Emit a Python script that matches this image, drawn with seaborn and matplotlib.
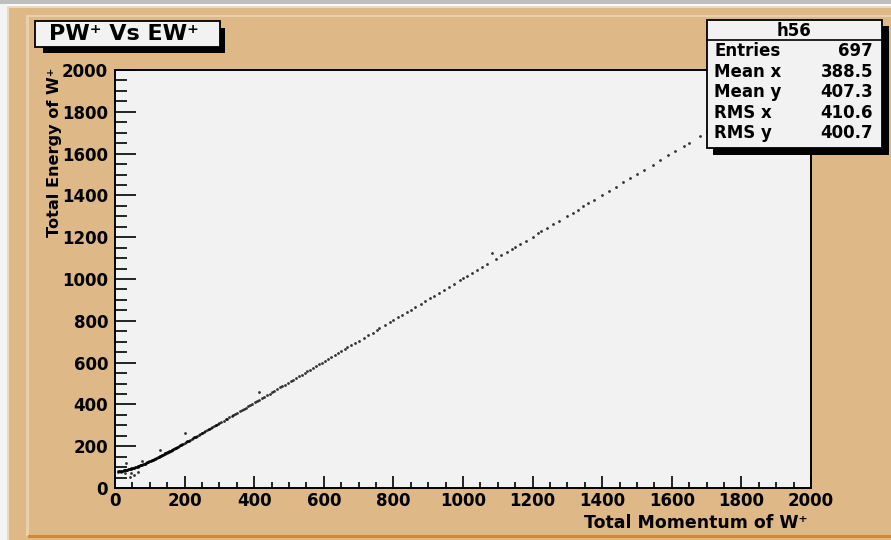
import matplotlib
matplotlib.use("Agg")
import matplotlib.pyplot as plt
from matplotlib.patches import Rectangle
from matplotlib.ticker import MultipleLocator
import pandas as pd
import seaborn as sns

# ---- data: W+ total momentum vs total energy (GeV) ----
momentum_low = [8, 12, 15, 18, 22, 25, 28, 30, 33, 35, 38, 40, 42, 45, 47, 50, 52, 55, 57, 60,
                62, 65, 67, 70, 72, 75, 77, 80, 82, 85, 88, 90, 93, 95, 98, 100, 103, 105, 108, 110,
                113, 115, 118, 120, 123, 125, 128, 130, 133, 135, 138, 140, 143, 145, 148, 150, 153,
                155, 158, 160, 163, 165, 168, 170, 173, 175, 178, 180, 184, 187, 190, 193, 196, 200,
                204, 208, 212, 216, 220, 224, 228, 232, 236, 240, 245, 250, 255, 260, 265, 270, 275,
                280, 285, 290, 295, 300,
                10, 20, 25, 35, 45, 55, 65, 75, 85, 95, 105, 115, 125, 135, 145, 155, 165, 175, 190,
                210, 230, 250, 270, 290]
energy_low = [79, 80, 81, 82, 83, 84, 84, 86, 87, 88, 89, 90, 91, 92, 93, 95, 96, 97, 99, 100,
              101, 103, 105, 107, 108, 110, 112, 113, 115, 117, 119, 121, 123, 125, 127, 128, 131, 132, 135, 136,
              138, 140, 143, 145, 147, 150, 151, 153, 155, 157, 160, 161, 164, 166, 168, 170, 173,
              175, 177, 179, 182, 184, 187, 188, 191, 193, 195, 197, 201, 204, 206, 209, 212, 215,
              219, 223, 227, 230, 234, 238, 242, 245, 249, 253, 258, 263, 268, 272, 277, 282, 286,
              291, 296, 301, 305, 310,
              78, 80, 86, 86, 94, 95, 101, 112, 116, 124, 133, 139, 149, 158, 167, 174, 183, 192, 207,
              225, 243, 262, 283, 300]

momentum_mid = [306, 312, 318, 322, 328, 335, 340, 346, 352, 358, 364, 370, 376, 382, 388, 395,
                402, 408, 415, 422, 428, 436, 444, 450, 458, 466, 474, 480, 488, 496, 505, 512,
                520, 528, 536, 545, 552, 560, 570, 578, 586, 595, 604, 612, 622, 632, 640, 650,
                660, 668, 678, 690, 700]
energy_mid = [316, 322, 328, 332, 338, 344, 349, 355, 361, 367, 373, 379, 384, 390, 396, 403,
              410, 416, 423, 430, 435, 443, 451, 457, 465, 473, 481, 487, 495, 502, 511, 518,
              526, 534, 542, 551, 558, 566, 576, 584, 591, 600, 609, 617, 627, 637, 645, 655,
              665, 673, 683, 695, 705]

momentum_high = [715, 728, 740, 752, 760, 775, 790, 800, 812, 825, 838, 850, 862, 878, 890, 905,
                 918, 930, 945, 960, 975, 990, 1000, 1012, 1025, 1040, 1055, 1070, 1095, 1110,
                 1125, 1140, 1150, 1165, 1180, 1200, 1215, 1225, 1240, 1260, 1275, 1300, 1315,
                 1330, 1345, 1360, 1375, 1400, 1420, 1440, 1460, 1480, 1500, 1520, 1545, 1565,
                 1590, 1610, 1635, 1650, 1680, 1700, 1715]
energy_high = [719, 732, 744, 756, 764, 779, 794, 804, 816, 829, 842, 854, 866, 882, 894, 909,
               921, 933, 948, 963, 978, 993, 1003, 1015, 1028, 1043, 1058, 1073, 1098, 1113,
               1128, 1143, 1153, 1168, 1183, 1203, 1218, 1228, 1243, 1263, 1278, 1302, 1317,
               1332, 1347, 1362, 1377, 1402, 1422, 1442, 1462, 1482, 1502, 1522, 1547, 1567,
               1592, 1612, 1637, 1652, 1682, 1702, 1717]

# off-curve entries
momentum_stray = [17, 43, 45, 66, 33, 77, 129, 201, 414, 1083, 30, 55]
energy_stray = [78, 53, 72, 77, 122, 131, 184, 263, 459, 1124, 70, 60]

stat_labels = ["Entries", "Mean x", "Mean y", "RMS x", "RMS y"]
stat_values = ["697", "388.5", "407.3", "410.6", "400.7"]
hist_name = "h56"
title = "PW\u207a Vs EW\u207a"
x_title = "Total Momentum of W\u207a"
y_title = "Total Energy of W\u207a"

df = pd.DataFrame({
    "p": momentum_low + momentum_mid + momentum_high + momentum_stray,
    "E": energy_low + energy_mid + energy_high + energy_stray,
})

# ---- style ----
sns.set_theme(style="ticks")
plt.rcParams["font.family"] = ["DejaVu Sans"]
plt.rcParams["font.weight"] = "bold"
plt.rcParams["text.color"] = "black"

TAN = "#DEB887"
PANEL = "#F2F2F2"
W, H = 891, 540

fig = plt.figure(figsize=(W / 100, H / 100), dpi=100)
fig.patch.set_facecolor(TAN)


def rect(x0, y0, x1, y1, color, z=-5, edge="none", lw=0):
    fig.add_artist(Rectangle((x0 / W, 1 - y1 / H), (x1 - x0) / W, (y1 - y0) / H,
                             transform=fig.transFigure, facecolor=color,
                             edgecolor=edge, linewidth=lw, zorder=z))


# canvas frame with bevels
rect(0, 0, W, 4, "#BEBEBE")
rect(0, 4, W, 6, "#FAFAFA")
rect(0, 4, 7, H, "#F3F3F3")
rect(7, 6, W, 8, "#EFD9B9")
rect(7, 6, 9, H, "#EFD9B9")
rect(26, 15, W, 17, "#EBD1AB")
rect(26, 15, 29, 536, "#EBD1AB")
rect(28, 535, W, 538, "#C98A3A")

# ---- scatter ----
L, R, T, B = 115, 811, 70, 488
ax = fig.add_axes([L / W, 1 - B / H, (R - L) / W, (B - T) / H])
ax.set_facecolor(PANEL)
sns.scatterplot(data=df, x="p", y="E", ax=ax, s=4, color="black",
                linewidth=0, alpha=0.8, legend=False)
ax.set_xlim(0, 2000)
ax.set_ylim(0, 2000)
ax.set_xlabel("")
ax.set_ylabel("")
for sp in ax.spines.values():
    sp.set_linewidth(1.4)
    sp.set_color("black")

ax.xaxis.set_major_locator(MultipleLocator(200))
ax.xaxis.set_minor_locator(MultipleLocator(50))
ax.yaxis.set_major_locator(MultipleLocator(200))
ax.yaxis.set_minor_locator(MultipleLocator(50))
ax.tick_params(axis="both", which="both", direction="in", width=1.2, color="black",
               labelsize=12, labelcolor="black")
ax.tick_params(axis="y", which="major", length=15, pad=5)
ax.tick_params(axis="y", which="minor", length=8.5)
ax.tick_params(axis="x", which="major", length=8.6, pad=3)
ax.tick_params(axis="x", which="minor", length=4.3)
for lab in ax.get_xticklabels() + ax.get_yticklabels():
    lab.set_fontweight("bold")

fig.text(808 / W, 1 - 523 / H, x_title, ha="right", va="center", fontsize=12.5,
         fontweight="bold", color="black")
fig.text(55 / W, 1 - 68 / H, y_title, ha="center", va="top", rotation=90,
         fontsize=11.6, fontweight="bold", color="black")

# ---- title box ----
rect(43, 28, 225, 53, "black", z=6)
rect(35, 21, 220, 47, PANEL, z=7, edge="black", lw=1.3)
fig.text(124 / W, 1 - 34.5 / H, title, ha="center", va="center", fontsize=16,
         fontweight="bold", color="black", zorder=8)

# ---- statistics box ----
rect(713, 26, 889, 155, "black", z=6)
rect(707, 20, 882, 148, PANEL, z=7, edge="black", lw=1.3)
fig.add_artist(plt.Line2D([707 / W, 882 / W], [1 - 40 / H, 1 - 40 / H],
                          transform=fig.transFigure, color="black", lw=1.2, zorder=8))
fig.text(794 / W, 1 - 30.5 / H, hist_name, ha="center", va="center", fontsize=12,
         fontweight="bold", color="black", zorder=9)
row_y = [51, 72, 92, 113, 133]
for lab, val, yy in zip(stat_labels, stat_values, row_y):
    fig.text(714 / W, 1 - yy / H, lab, ha="left", va="center", fontsize=12,
             fontweight="bold", color="black", zorder=9)
    fig.text(873 / W, 1 - yy / H, val, ha="right", va="center", fontsize=12,
             fontweight="bold", color="black", zorder=9)

fig.savefig("out.png", dpi=100, facecolor=TAN)
